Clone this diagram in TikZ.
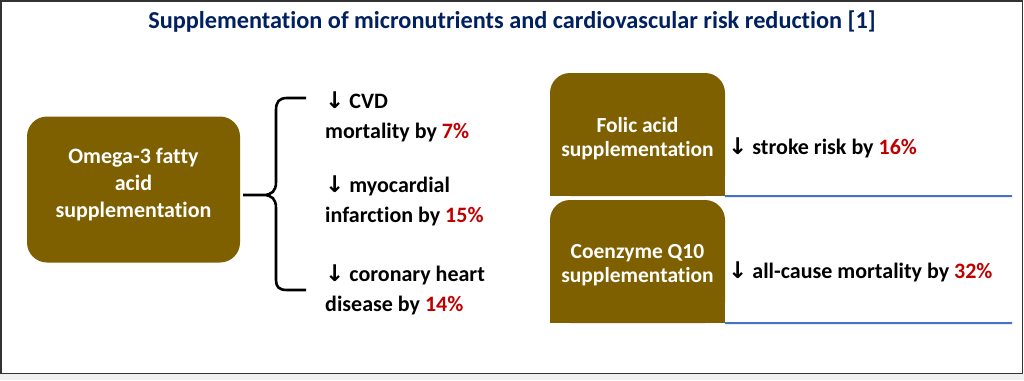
\documentclass[tikz,border=0pt]{standalone}
\usepackage{fontspec}
\setmainfont{Carlito}[Ligatures=NoCommon]
\newfontfamily\arrowfont{DejaVu Sans}
\usepackage{xcolor}
\definecolor{boxbrown}{HTML}{7F6000}
\definecolor{titleblue}{HTML}{002060}
\definecolor{pctred}{HTML}{C00000}
\definecolor{lineblue}{HTML}{4472C4}
\newcommand\dnarr{{\arrowfont\fontsize{23}{22}\selectfont ↓}}
\newcommand\pct[1]{\textcolor{pctred}{#1}}
\begin{document}
\begin{tikzpicture}[x=1pt,y=-1pt,
  brownbox/.style={fill=boxbrown, draw=none, rounded corners=20pt, text=white,
    font=\bfseries\fontsize{22}{28}\selectfont, align=center, inner sep=0pt},
  effect/.style={anchor=west, align=left, inner sep=0pt,
    font=\bfseries\fontsize{22}{30}\selectfont},
  sep/.style={draw=lineblue, line width=2pt},
  bracestyle/.style={draw=black, line width=2.6pt}
]
\useasboundingbox (0,0) rectangle (1024,380);
\fill[white] (0,0) rectangle (1024,380);
\fill[gray!12] (0,374) rectangle (1024,380);
\draw[line width=1.6pt, draw=black!80] (0.8,0.8) rectangle (1022.6,373.6);

\node[font=\bfseries\fontsize{24.3}{26}\selectfont, text=titleblue] (title) at (512,22)
  {Supplementation of micronutrients and cardiovascular risk reduction [1]};

% Omega-3 box
\node[brownbox, minimum width=213pt, minimum height=146pt] (omega) at (133.5,189.5) {};
\node[text=white, font=\bfseries\fontsize{22}{27}\selectfont, align=center, inner sep=0pt]
  (omegatext) at (133.5,185) {Omega-3 fatty\\acid\\supplementation};

% brace
\coordinate (btip) at (243,195);
\draw[bracestyle, line cap=butt]
  (306,98) -- (287,98) .. controls (279,98) and (276,102) .. (276,110)
  -- (276,182) .. controls (276,191) and (272,195) .. (263,195) -- (btip)
  -- (263,195) .. controls (272,195) and (276,199) .. (276,208)
  -- (276,280) .. controls (276,287) and (279,290) .. (287,290) -- (306,290);

\node[effect] (cvd) at (325,117) {\dnarr\ CVD\\mortality by \pct{7\%}};
\node[effect] (mi) at (325,201) {\dnarr\ myocardial\\infarction by \pct{15\%}};
\node[effect] (chd) at (325,290) {\dnarr\ coronary heart\\disease by \pct{14\%}};

% Folic acid
\node[brownbox, minimum width=175pt, minimum height=123pt] (folic) at (637.5,134.5) {};
\fill[boxbrown] (folic.west) rectangle (folic.south east);
\node[text=white, font=\bfseries\fontsize{21.5}{24}\selectfont, align=center, inner sep=0pt]
  (folictext) at (637.5,139) {Folic acid\\supplementation};
\draw[sep] (folic.south east) -- (1012,196);
\node[effect] (stroke) at (728,148) {\dnarr\ stroke risk by \pct{16\%}};

% Coenzyme Q10
\node[brownbox, minimum width=175pt, minimum height=123pt] (coq) at (637.5,261.5) {};
\fill[boxbrown] (coq.west) rectangle (coq.south east);
\node[text=white, font=\bfseries\fontsize{21.5}{24}\selectfont, align=center, inner sep=0pt]
  (coqtext) at (637.5,265) {Coenzyme Q10\\supplementation};
\draw[sep] (coq.south east) -- (1012,323);
\node[effect] (allcause) at (728,272) {\dnarr\ all-cause mortality by \pct{32\%}};
\end{tikzpicture}
\end{document}
